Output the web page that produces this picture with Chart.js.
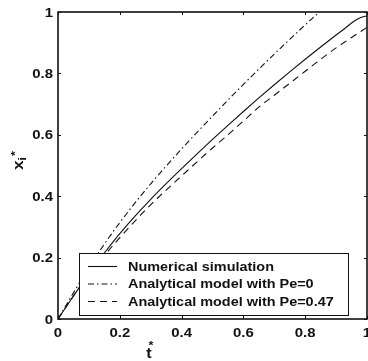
<!DOCTYPE html>
<html>
<head>
<meta charset="utf-8">
<script src="https://cdn.jsdelivr.net/npm/chart.js@4/dist/chart.umd.min.js"></script>
<style>
html,body{margin:0;padding:0;background:#fff;}
canvas{display:block;}
</style>
</head>
<body>
<canvas id="c" width="368" height="361"></canvas>
<script>
// ---- data ----
const tNum = [0,0.05,0.1,0.15,0.2,0.25,0.3,0.35,0.4,0.45,0.5,0.55,0.6,0.65,0.7,0.75,0.8,0.85,0.9,0.93,0.95,0.97,0.985,1.0];
const xNum = [0,0.075,0.147,0.215,0.278,0.336,0.39,0.441,0.49,0.538,0.585,0.631,0.676,0.72,0.763,0.805,0.846,0.886,0.925,0.948,0.964,0.977,0.984,0.987];

const tPe0 = [0,0.05,0.1,0.15,0.2,0.25,0.3,0.35,0.4,0.45,0.5,0.55,0.6,0.65,0.7,0.75,0.8,0.85];
const xPe0 = [0,0.085,0.168,0.244,0.314,0.379,0.44,0.498,0.554,0.608,0.661,0.713,0.764,0.814,0.863,0.911,0.958,1.004];

const tPe047 = [0,0.05,0.1,0.15,0.2,0.25,0.3,0.35,0.4,0.45,0.5,0.55,0.6,0.65,0.7,0.75,0.8,0.85,0.9,0.95,1.0];
const xPe047 = [0,0.075,0.144,0.207,0.265,0.32,0.372,0.42,0.466,0.512,0.557,0.6,0.645,0.69,0.729,0.768,0.807,0.846,0.883,0.917,0.95];

const seriesNames = ['Numerical simulation','Analytical model with Pe=0','Analytical model with Pe=0.47'];
const tickValues = [0,0.2,0.4,0.6,0.8,1];
const tickLabels = ['0','0.2','0.4','0.6','0.8','1'];

const pts = (xs, ys) => xs.map((x, i) => ({x: x, y: ys[i]}));
const INK = '#111';
const dashes = [[], [6,3,1.5,3], [7,5]];

function stretchedText(ctx, text, x, y, align, k) {
  ctx.save();
  ctx.translate(x, y);
  ctx.scale(k || 1.15, 1);
  ctx.textAlign = align;
  ctx.fillText(text, 0, 0);
  ctx.restore();
}

const frame = {
  id: 'frame',
  afterDatasetsDraw(chart) {
    const ctx = chart.ctx;
    const a = chart.chartArea;
    const xs = chart.scales.x, ys = chart.scales.y;
    ctx.save();
    ctx.strokeStyle = INK;
    ctx.fillStyle = INK;
    // box
    ctx.lineWidth = 1.6;
    ctx.strokeRect(a.left, a.top, a.right - a.left, a.bottom - a.top);
    // ticks (inside, all four sides)
    ctx.lineWidth = 1;
    const tl = 3;
    tickValues.forEach(v => {
      const px = Math.round(xs.getPixelForValue(v)) + 0.5;
      const py = Math.round(ys.getPixelForValue(v)) + 0.5;
      ctx.beginPath();
      ctx.moveTo(px, a.bottom); ctx.lineTo(px, a.bottom - tl);
      ctx.moveTo(px, a.top); ctx.lineTo(px, a.top + tl);
      ctx.moveTo(a.left, py); ctx.lineTo(a.left + tl, py);
      ctx.moveTo(a.right, py); ctx.lineTo(a.right - tl, py);
      ctx.stroke();
    });
    // tick labels
    ctx.font = 'bold 13px "Liberation Sans", Arial, sans-serif';
    ctx.textBaseline = 'middle';
    tickValues.forEach((v, i) => {
      stretchedText(ctx, tickLabels[i], a.left - 5, ys.getPixelForValue(v) + 1, 'right');
    });
    ctx.textBaseline = 'alphabetic';
    tickValues.forEach((v, i) => {
      stretchedText(ctx, tickLabels[i], xs.getPixelForValue(v), a.bottom + 18, 'center');
    });
    // x axis title t*
    ctx.font = 'bold 14px "Liberation Sans", Arial, sans-serif';
    stretchedText(ctx, 't', 149, 358, 'center');
    ctx.font = 'bold 11px "Liberation Sans", Arial, sans-serif';
    stretchedText(ctx, '*', 151, 349, 'center');
    // y axis title x_i*
    ctx.save();
    ctx.translate(23, 170);
    ctx.rotate(-Math.PI / 2);
    ctx.font = 'bold 15px "Liberation Sans", Arial, sans-serif';
    stretchedText(ctx, 'x', 0, 0, 'left');
    ctx.font = 'bold 10px "Liberation Sans", Arial, sans-serif';
    stretchedText(ctx, 'i', 9.5, 3, 'left');
    ctx.font = 'bold 11px "Liberation Sans", Arial, sans-serif';
    stretchedText(ctx, '*', 14, -4, 'left');
    ctx.restore();

    // legend box
    const L = {x: 79, y: 253, w: 269, h: 62};
    ctx.fillStyle = '#fff';
    ctx.fillRect(L.x, L.y, L.w, L.h);
    ctx.lineWidth = 1;
    ctx.strokeStyle = INK;
    ctx.strokeRect(L.x + 0.5, L.y + 0.5, L.w, L.h);
    ctx.fillStyle = INK;
    ctx.font = 'bold 13px "Liberation Sans", Arial, sans-serif';
    ctx.textBaseline = 'middle';
    const rows = [266, 283.5, 301];
    seriesNames.forEach((name, i) => {
      ctx.save();
      ctx.setLineDash(dashes[i]);
      ctx.lineWidth = 1.1;
      ctx.beginPath();
      ctx.moveTo(88, rows[i] + 0.5);
      ctx.lineTo(117, rows[i] + 0.5);
      ctx.stroke();
      ctx.restore();
      stretchedText(ctx, name, 128, rows[i] + 1, 'left', 1.11);
    });
    ctx.restore();
  }
};

new Chart(document.getElementById('c'), {
  type: 'scatter',
  data: {
    datasets: [
      {label: seriesNames[0], data: pts(tNum, xNum)},
      {label: seriesNames[1], data: pts(tPe0, xPe0)},
      {label: seriesNames[2], data: pts(tPe047, xPe047)}
    ].map((d, i) => Object.assign(d, {
      showLine: true,
      borderColor: INK,
      backgroundColor: INK,
      borderWidth: 1.1,
      borderDash: dashes[i],
      pointRadius: 0,
      cubicInterpolationMode: 'monotone'
    }))
  },
  options: {
    responsive: false,
    animation: false,
    devicePixelRatio: 1,
    layout: {padding: {left: 58, top: 12, right: 1, bottom: 42}},
    plugins: {legend: {display: false}, tooltip: {enabled: false}},
    scales: {
      x: {type: 'linear', min: 0, max: 1, display: false},
      y: {type: 'linear', min: 0, max: 1, display: false}
    }
  },
  plugins: [frame]
});
</script>
</body>
</html>
